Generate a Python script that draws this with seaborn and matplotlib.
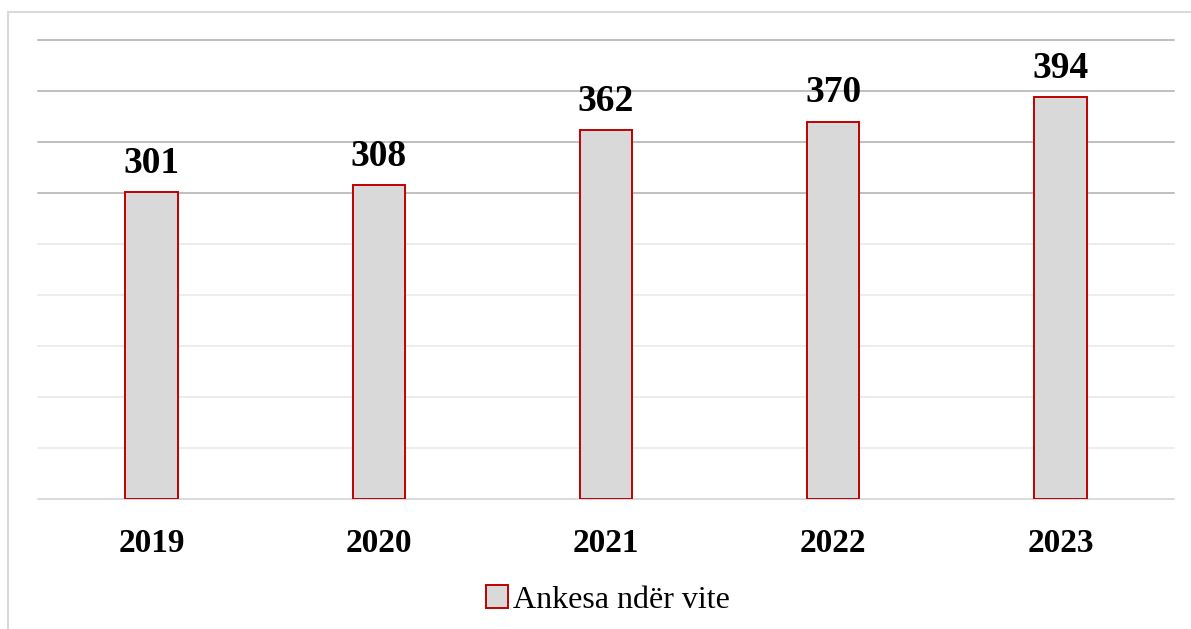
import matplotlib
matplotlib.use("Agg")
import matplotlib.pyplot as plt
import seaborn as sns
import pandas as pd
from matplotlib.patches import Rectangle, Patch

sns.set_theme(style="white")
plt.rcParams['font.family'] = ['Liberation Serif', 'DejaVu Serif']

# Data
vitet = ["2019", "2020", "2021", "2022", "2023"]
ankesa = [301, 308, 362, 370, 394]
seria = "Ankesa ndër vite"

df = pd.DataFrame({"Viti": vitet, "Ankesa": ankesa})

fig = plt.figure(figsize=(11.91, 6.29), dpi=100)
ax = fig.add_axes([38 / 1191, 1 - 499 / 629, (1174 - 38) / 1191, (499 - 40) / 629])

sns.barplot(data=df, x="Viti", y="Ankesa", ax=ax, color="#D9D9D9",
            edgecolor="#C00000", linewidth=1.4, width=0.23, saturation=1)

ax.set_ylim(0, 450)
ax.set_yticks(range(0, 451, 50))
ax.set_yticklabels([])
ax.tick_params(axis="y", length=0)
ax.tick_params(axis="x", length=0, pad=21)
ax.set_xlabel("")
ax.set_ylabel("")
for lbl in ax.get_xticklabels():
    lbl.set_fontsize(24)
    lbl.set_fontweight("bold")
    lbl.set_color("black")

ax.grid(axis="y", linewidth=1.4)
ax.set_axisbelow(True)
for val, gl in zip(ax.get_yticks(), ax.get_ygridlines()):
    gl.set_clip_on(False)
    gl.set_color("#BFBFBF" if val >= 300 else "#EDEDED")
    if val == 0:
        gl.set_color("#D9D9D9")
for s in ax.spines.values():
    s.set_visible(False)

# Value labels
for cont in ax.containers:
    ax.bar_label(cont, labels=[str(v) for v in ankesa], padding=8,
                 fontsize=27, fontweight="bold", color="black")

# Legend
handle = Patch(facecolor="#D9D9D9", edgecolor="#C00000", linewidth=1.4, label=seria)
fig.legend(handles=[handle], loc="center", bbox_to_anchor=(608 / 1191, 1 - 600 / 629),
           frameon=False, fontsize=23, handlelength=0.7, handleheight=0.7,
           handletextpad=0.15, labelcolor="black")

# Chart border
fig.patches.append(Rectangle((8 / 1191, -0.1), 1.2, 1 - 12 / 629 + 0.1,
                             transform=fig.transFigure, fill=False,
                             edgecolor="#D9D9D9", linewidth=1.5, clip_on=False))

fig.savefig("out.png", dpi=100, facecolor="white")
